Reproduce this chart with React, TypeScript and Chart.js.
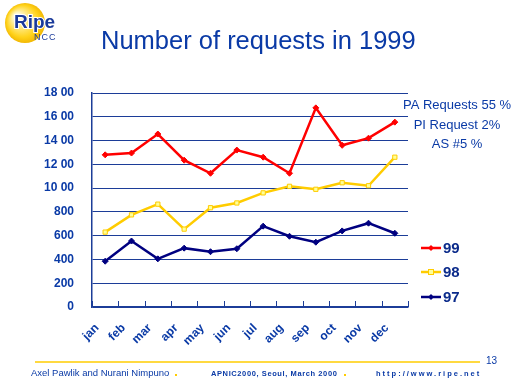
import React, { useEffect, useRef } from 'react';
import { Chart, registerables } from 'chart.js';

Chart.register(...registerables);

const months = ['jan', 'feb', 'mar', 'apr', 'may', 'jun', 'jul', 'aug', 'sep', 'oct', 'nov', 'dec'];
const series99 = [1280, 1295, 1455, 1235, 1125, 1320, 1260, 1125, 1675, 1360, 1420, 1555];
const series98 = [630, 775, 865, 655, 835, 875, 960, 1015, 990, 1045, 1020, 1260];
const series97 = [385, 555, 405, 495, 465, 490, 680, 595, 545, 640, 705, 620];
const yTickValues = [0, 200, 400, 600, 800, 1000, 1200, 1400, 1600, 1800];
const yTickLabels = ['0', '200', '400', '600', '800', '10 00', '12 00', '14 00', '16 00', '18 00'];
const seriesNames = ['99', '98', '97'];
const notes = ['PA Requests 55 %', 'PI Request 2%', 'AS #5 %'];
const title = 'Number of requests in 1999';
const footerLeft = 'Axel Pawlik and Nurani Nimpuno';
const footerMid = 'APNIC2000, Seoul, March 2000';
const footerRight = 'http://www.ripe.net';
const pageNumber = '13';

const SANS = "'Liberation Sans', Arial, sans-serif";
const BLUE = '#0a3aa6';
const NAVY = '#000080';
const GRID = '#1c3d98';
const RED = '#ff0000';
const YELLOW = '#ffcc00';

const colors = [RED, YELLOW, NAVY];
const fills = [RED, '#ffff99', NAVY];
const styles: any[] = ['rectRot', 'rect', 'rectRot'];

const decorations = {
  id: 'decorations',
  afterDraw(chart: any) {
    const ctx = chart.ctx as CanvasRenderingContext2D;
    const xs = chart.scales.x;
    ctx.save();
    // inward x ticks
    const n = months.length;
    const half = (xs.getPixelForValue(1) - xs.getPixelForValue(0)) / 2;
    ctx.strokeStyle = GRID;
    ctx.lineWidth = 1;
    for (let i = 0; i <= n; i++) {
      const x = i < n ? xs.getPixelForValue(i) - half : xs.getPixelForValue(n - 1) + half;
      const px = Math.round(x) + 0.5;
      ctx.beginPath();
      ctx.moveTo(px, xs.top);
      ctx.lineTo(px, xs.top - 6);
      ctx.stroke();
    }

    // logo
    const g = ctx.createRadialGradient(16, 16, 1, 25, 23, 21);
    g.addColorStop(0, '#ffffff');
    g.addColorStop(0.3, '#fff0a0');
    g.addColorStop(0.75, '#ffd21a');
    g.addColorStop(1, '#f0b400');
    ctx.fillStyle = g;
    ctx.beginPath();
    ctx.arc(25, 23, 20, 0, Math.PI * 2);
    ctx.fill();
    ctx.textBaseline = 'alphabetic';
    ctx.textAlign = 'left';
    ctx.font = `bold 19px ${SANS}`;
    ctx.lineWidth = 2;
    ctx.strokeStyle = '#ffffff';
    ctx.strokeText('Ripe', 14, 28);
    ctx.fillStyle = '#1a3a9a';
    ctx.fillText('Ripe', 14, 28);
    ctx.font = `9px ${SANS}`;
    (ctx as any).letterSpacing = '1px';
    ctx.fillText('NCC', 34, 40);
    (ctx as any).letterSpacing = '0px';

    // title
    ctx.fillStyle = BLUE;
    ctx.font = `25.5px ${SANS}`;
    ctx.textAlign = 'left';
    ctx.fillText(title, 101, 49);

    // notes
    ctx.font = `13px ${SANS}`;
    ctx.textAlign = 'center';
    ctx.textBaseline = 'middle';
    const noteY = [105, 125, 144];
    notes.forEach((t, i) => ctx.fillText(t, 457, noteY[i]));

    // legend
    const legY = [248, 272, 297];
    seriesNames.forEach((name, i) => {
      const y = legY[i];
      ctx.strokeStyle = colors[i];
      ctx.lineWidth = 2.5;
      ctx.beginPath();
      ctx.moveTo(421, y);
      ctx.lineTo(441, y);
      ctx.stroke();
      ctx.fillStyle = fills[i];
      ctx.strokeStyle = colors[i];
      ctx.lineWidth = 1;
      if (i === 1) {
        ctx.fillRect(428.5, y - 2.5, 5, 5);
        ctx.strokeRect(428.5, y - 2.5, 5, 5);
      } else {
        ctx.fillStyle = colors[i];
        ctx.beginPath();
        ctx.moveTo(431, y - 3);
        ctx.lineTo(434, y);
        ctx.lineTo(431, y + 3);
        ctx.lineTo(428, y);
        ctx.closePath();
        ctx.fill();
      }
      ctx.fillStyle = '#0a2a8a';
      ctx.font = `bold 15px 'Liberation Sans Narrow', ${SANS}`;
      ctx.textAlign = 'left';
      ctx.textBaseline = 'middle';
      ctx.fillText(name, 443, y + 1);
    });

    // footer
    ctx.strokeStyle = YELLOW;
    ctx.lineWidth = 1.5;
    ctx.beginPath();
    ctx.moveTo(35, 362);
    ctx.lineTo(480, 362);
    ctx.stroke();
    ctx.fillStyle = BLUE;
    ctx.font = `10px ${SANS}`;
    ctx.textAlign = 'left';
    ctx.textBaseline = 'middle';
    ctx.fillText(pageNumber, 486, 361);
    ctx.font = `9.5px ${SANS}`;
    ctx.fillText(footerLeft, 31, 373);
    ctx.font = `bold 7.5px ${SANS}`;
    (ctx as any).letterSpacing = '0.6px';
    ctx.fillText(footerMid, 211, 374);
    (ctx as any).letterSpacing = '2px';
    ctx.fillText(footerRight, 376, 374);
    (ctx as any).letterSpacing = '0px';
    ctx.fillStyle = YELLOW;
    ctx.fillRect(175, 374, 2, 2);
    ctx.fillRect(344, 374, 2, 2);
    ctx.restore();
  },
};

export default function App() {
  const ref = useRef<HTMLCanvasElement>(null);
  useEffect(() => {
    if (!ref.current) return;
    const chart = new Chart(ref.current, {
      type: 'line',
      data: {
        labels: months,
        datasets: [series99, series98, series97].map((d, i) => ({
          label: seriesNames[i],
          data: d,
          borderColor: colors[i],
          backgroundColor: fills[i],
          pointBorderColor: colors[i],
          pointStyle: styles[i],
          pointRadius: 3,
          pointBorderWidth: 1,
          borderWidth: 2.5,
          tension: 0,
        })),
      },
      options: {
        responsive: false,
        animation: false,
        layout: { padding: { left: 30, right: 104, top: 93, bottom: 0 } },
        plugins: { legend: { display: false }, tooltip: { enabled: false } },
        scales: {
          x: {
            offset: true,
            grid: { display: true, drawOnChartArea: false, drawTicks: false },
            border: { display: true, color: GRID, width: 1.5 },
            ticks: {
              color: BLUE,
              font: { family: SANS, size: 12, weight: 'bold' },
              minRotation: 45,
              maxRotation: 45,
              padding: 14,
              labelOffset: -8,
              autoSkip: false,
            },
            afterFit: (s: any) => { s.height = 77; },
          },
          y: {
            min: 0,
            max: 1800,
            afterBuildTicks: (s: any) => { s.ticks = yTickValues.map((v) => ({ value: v })); },
            ticks: {
              color: BLUE,
              font: { family: SANS, size: 12, weight: 'bold' },
              padding: 18,
              callback: (v: any) => yTickLabels[yTickValues.indexOf(Number(v))] ?? '',
            },
            grid: { color: GRID, lineWidth: 1, drawTicks: false },
            border: { display: true, color: GRID, width: 1.5 },
            afterFit: (s: any) => { s.width = 62; },
          },
        },
      },
      plugins: [decorations],
    });
    return () => chart.destroy();
  }, []);
  return (
    <canvas
      ref={ref}
      width={512}
      height={384}
      style={{ position: 'fixed', left: 0, top: 0, width: 512, height: 384, background: '#fff' }}
    />
  );
}
